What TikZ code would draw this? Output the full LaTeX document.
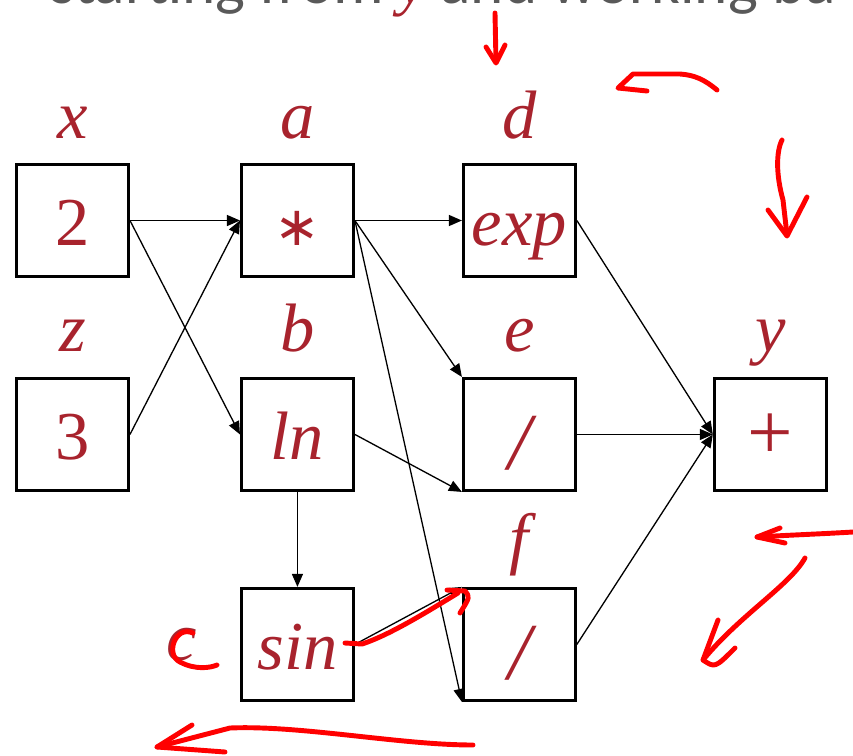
\documentclass[tikz,border=0pt]{standalone}
\usepackage{fontspec}
\usetikzlibrary{arrows.meta, positioning}
\newfontfamily\slidefont{Carlito}
\newfontfamily\varfont{Liberation Serif}
\newfontfamily\opsymfont{DejaVu Sans}
\definecolor{deepred}{HTML}{A8232D}
\definecolor{slidegray}{HTML}{595959}
\definecolor{penred}{HTML}{FF0000}
\tikzset{
  opbox/.style={draw=black, line width=1.7pt, minimum size=2.24cm, inner sep=0pt, text height=28.4pt, text depth=0pt, text=deepred, font=\varfont\fontsize{39}{42}\selectfont},
  varname/.style={text=deepred, font=\varfont\itshape\fontsize{39}{42}\selectfont, anchor=base, inner sep=0pt},
  flow/.style={-{Triangle[length=0.26cm, width=0.22cm]}, line width=0.75pt},
  pen/.style={penred, line width=2.8pt, line cap=round, line join=round}
}

\begin{document}
\begin{tikzpicture}[x=0.02cm, y=-0.02cm]
\useasboundingbox (0,0) rectangle (853,755);
\node[anchor=base west, text=slidegray, font=\slidefont\fontsize{36}{40}\selectfont, inner sep=0pt] (title) at (50,3) {starting from {\color{deepred}\varfont\itshape y} and working ba};

% boxes
\node[opbox] (nx) at (72.5,220.5) {2};
\node[opbox, right=2.2cm of nx] (na) {{\opsymfont\fontsize{31}{31}\selectfont ∗}};
\node[opbox, right=2.14cm of na] (nd) {\itshape exp};
\node[opbox, below=1.98cm of nx] (nz) {3};
\node[opbox, below=1.98cm of na] (nb) {\itshape ln};
\node[opbox, below=1.98cm of nd] (ne) {\raisebox{-0.2cm}{\fontsize{46}{46}\selectfont\itshape /}};
\node[opbox, right=2.72cm of ne] (ny) {\fontsize{46}{46}\selectfont +};
\node[opbox, below=1.9cm of nb] (nc) {\itshape sin};
\node[opbox, below=1.9cm of ne] (nf) {\raisebox{-0.2cm}{\fontsize{46}{46}\selectfont\itshape /}};

% variable names
\foreach \n/\t in {nx/x, na/a, nd/d, nz/z, nb/b, ne/e, ny/y, nf/f}
  \node[varname] (l\t) at ([yshift=0.5cm]\n.north) {\t};
\node[varname] (lc) at (182,660) {c};

% edges
\draw[flow] (nx.east) -- (na.west);
\draw[flow] (nx.east) -- (nb.west);
\draw[flow] (nz.east) -- (na.west);
\draw[flow] (na.east) -- (nd.west);
\draw[flow] (na.east) -- (ne.north west);
\draw[flow] (na.east) -- (nf.south west);
\draw[flow] (nb.east) -- (ne.south west);
\draw[flow] (nb.south) -- (nc.north);
\draw[flow] (nc.east) -- (nf.north west);
\draw[flow] (nd.east) -- (ny.west);
\draw[flow] (ne.east) -- (ny.west);
\draw[flow] (nf.east) -- (ny.west);

% pen marks
\draw[pen] (495,13) -- (496,62);
\draw[pen] (486,47) -- (496,63) -- (505,45);
\draw[pen] (717,90) .. controls (705,80) and (695,75) .. (680,74) -- (633,74) -- (618,88) -- (647,91);
\draw[pen] (782,140) .. controls (776,152) and (776,175) .. (783,200) -- (787,235);
\draw[pen] (768,210) -- (787,236) -- (807,197);
\draw[pen] (853,532) .. controls (820,534) and (790,535) .. (757,537);
\draw[pen] (780,528) -- (757,537) -- (785,543);
\draw[pen] (805,558) .. controls (790,585) and (740,615) .. (703,660);
\draw[pen] (718,620) -- (703,660) .. controls (715,668) .. (735,648);
\draw[pen] (473,745) .. controls (400,745) and (300,725) .. (230,728) -- (157,747);
\draw[pen] (192,725) -- (157,747) -- (225,752);
\draw[pen] (193,633) .. controls (175,625) and (165,655) .. (180,662) .. controls (195,670) and (210,668) .. (217,665);
\draw[pen] (345,643) -- (362,644) .. controls (390,635) and (430,610) .. (458,593);
\draw[pen] (447,590) -- (465,591) .. controls (470,597) .. (460,613);
\end{tikzpicture}
\end{document}
